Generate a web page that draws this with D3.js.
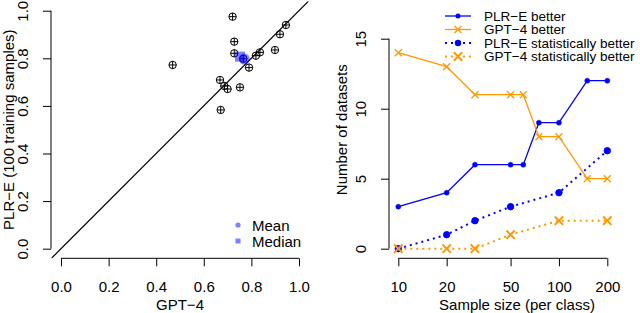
<!DOCTYPE html>
<html>
<head>
<meta charset="utf-8">
<script src="https://cdn.jsdelivr.net/npm/d3@7"></script>
<style>
  body { margin: 0; background: #fff; }
  svg { display: block; font-family: "Liberation Sans", Arial, sans-serif; }
</style>
</head>
<body>
<svg id="chart" width="640" height="313"></svg>
<script>
// left panel: accuracy per dataset
var gptAcc = [0.721, 0.728, 0.728, 0.945, 0.920, 0.899, 0.836, 0.819, 0.790, 0.469, 0.668, 0.686, 0.700, 0.752, 0.671, 0.766];
var plrAcc = [0.975, 0.870, 0.821, 0.940, 0.901, 0.835, 0.825, 0.811, 0.761, 0.772, 0.709, 0.684, 0.671, 0.678, 0.583, 0.798];
var meanPt = [0.770, 0.797];
var medianPt = [0.752, 0.807];
var accTicks = [0, 0.2, 0.4, 0.6, 0.8, 1.0];

// right panel: counts per sample size
var sampleSizes = [10, 20, 30, 50, 60, 75, 100, 150, 200];
var plrBetter = [3, 4, 6, 6, 6, 9, 9, 12, 12];
var gptBetter = [14, 13, 11, 11, 11, 8, 8, 5, 5];
var statSizes = [10, 20, 30, 50, 100, 200];
var plrStat = [0, 1, 2, 3, 4, 7];
var gptStat = [0, 0, 0, 1, 2, 2];
var sizeTicks = [10, 20, 50, 100, 200];
var countTicks = [0, 5, 10, 15];

var legendLabels = ["PLR\u2212E better", "GPT\u22124 better", "PLR\u2212E statistically better", "GPT\u22124 statistically better"];

var BLUE = "#0000ff", ORANGE = "#ff9900";
var FS = 15;

var svg = d3.select("#chart");

// R-like axis: line only between first and last tick
function rAxis(g, axis, scale, ticks, horiz) {
  g.call(axis.tickValues(ticks).tickSize(8).tickSizeOuter(0));
  var a = scale(ticks[0]), b = scale(ticks[ticks.length - 1]);
  g.select(".domain").attr("d", horiz ? "M" + a + ",0H" + b : "M0," + a + "V" + b);
  g.selectAll("line").attr("stroke", "#000");
  g.selectAll("text").attr("font-size", FS).attr("fill", "#000").attr("font-family", "Liberation Sans, Arial, sans-serif");
  return g;
}

// ---------- left panel ----------
var xL = d3.scaleLinear().domain([-0.04, 1.04]).range([51.5, 308.5]);
var yL = d3.scaleLinear().domain([-0.04, 1.04]).range([258.2, 1.2]);

svg.append("clipPath").attr("id", "clipL")
  .append("rect").attr("x", 51.5).attr("y", 1.2).attr("width", 257).attr("height", 257);

svg.append("line")
  .attr("clip-path", "url(#clipL)")
  .attr("x1", xL(-0.1)).attr("y1", yL(-0.1))
  .attr("x2", xL(1.1)).attr("y2", yL(1.1))
  .attr("stroke", "#000").attr("stroke-width", 1.2);

var gxL = svg.append("g").attr("transform", "translate(0,258.3)");
rAxis(gxL, d3.axisBottom(xL).tickFormat(d3.format(".1f")).tickPadding(15), xL, accTicks, true);

var gyL = svg.append("g").attr("transform", "translate(51,0)");
rAxis(gyL, d3.axisLeft(yL).tickFormat(d3.format(".1f")), yL, accTicks, false);
gyL.selectAll("text")
  .attr("transform", "rotate(-90)")
  .attr("x", 0).attr("y", -22.6).attr("dy", 0)
  .attr("text-anchor", "middle");

svg.append("text").attr("x", 180).attr("y", 309.5)
  .attr("text-anchor", "middle").attr("font-size", FS).text("GPT\u22124");
svg.append("text")
  .attr("transform", "translate(14,129.7) rotate(-90)")
  .attr("text-anchor", "middle").attr("font-size", FS)
  .text("PLR\u2212E (100 training samples)");

// points, pch 10 (circle plus)
var ptsL = d3.zip(gptAcc, plrAcc);
var pt = svg.append("g").selectAll("g").data(ptsL).join("g")
  .attr("transform", function(d) { return "translate(" + xL(d[0]) + "," + yL(d[1]) + ")"; })
  .attr("fill", "none").attr("stroke", "#000").attr("stroke-width", 1);
pt.append("circle").attr("r", 3.7);
pt.append("path").attr("d", "M-3.7,0H3.7M0,-3.7V3.7");

// mean and median
svg.append("rect")
  .attr("x", xL(medianPt[0]) - 5).attr("y", yL(medianPt[1]) - 5)
  .attr("width", 10).attr("height", 10)
  .attr("fill", BLUE).attr("fill-opacity", 0.5);
svg.append("circle")
  .attr("cx", xL(meanPt[0])).attr("cy", yL(meanPt[1])).attr("r", 5.5)
  .attr("fill", BLUE).attr("fill-opacity", 0.5);

// left legend
svg.append("circle").attr("cx", 238).attr("cy", 225).attr("r", 2.6)
  .attr("fill", BLUE).attr("fill-opacity", 0.5);
svg.append("rect").attr("x", 235.5).attr("y", 238.5).attr("width", 5).attr("height", 5)
  .attr("fill", BLUE).attr("fill-opacity", 0.5);
svg.append("text").attr("x", 252).attr("y", 230.5).attr("font-size", FS).text("Mean");
svg.append("text").attr("x", 252).attr("y", 246.8).attr("font-size", FS).text("Median");

// ---------- right panel ----------
var xR = d3.scaleLog().domain([10, 200]).range([398.3, 607.3]);
var yR = d3.scaleLinear().domain([0, 15]).range([248.7, 38.7]);

var gxR = svg.append("g").attr("transform", "translate(0,258.3)");
rAxis(gxR, d3.axisBottom(xR).tickFormat(d3.format("d")).tickPadding(15), xR, sizeTicks, true);

var gyR = svg.append("g").attr("transform", "translate(389,0)");
rAxis(gyR, d3.axisLeft(yR).tickFormat(d3.format("d")), yR, countTicks, false);
gyR.selectAll("text")
  .attr("transform", "rotate(-90)")
  .attr("x", 0).attr("y", -22.6).attr("dy", 0)
  .attr("text-anchor", "middle");

svg.append("text").attr("x", 517).attr("y", 309.5)
  .attr("text-anchor", "middle").attr("font-size", FS).text("Sample size (per class)");
svg.append("text")
  .attr("transform", "translate(347,129.7) rotate(-90)")
  .attr("text-anchor", "middle").attr("font-size", FS)
  .text("Number of datasets");

var line = d3.line().x(function(d) { return xR(d[0]); }).y(function(d) { return yR(d[1]); });

function crossPath(s) {
  return "M" + (-s) + "," + (-s) + "L" + s + "," + s + "M" + (-s) + "," + s + "L" + s + "," + (-s);
}

function series(xs, ys, color, shape, stat) {
  var data = d3.zip(xs, ys);
  svg.append("path").datum(data).attr("d", line)
    .attr("fill", "none").attr("stroke", color)
    .attr("stroke-width", stat ? 2 : 1.3)
    .attr("stroke-dasharray", stat ? "2,4" : null);
  var g = svg.append("g");
  data.forEach(function(d) {
    var cx = xR(d[0]), cy = yR(d[1]);
    if (shape === "dot") {
      g.append("circle").attr("cx", cx).attr("cy", cy).attr("r", stat ? 3.2 : 2.5)
        .attr("fill", color).attr("stroke", color).attr("stroke-width", stat ? 1 : 0.5);
    } else {
      g.append("path").attr("transform", "translate(" + cx + "," + cy + ")")
        .attr("d", crossPath(stat ? 4.2 : 3.5))
        .attr("stroke", color).attr("stroke-width", stat ? 2 : 1.3).attr("fill", "none");
    }
  });
}

series(sampleSizes, plrBetter, BLUE, "dot", false);
series(sampleSizes, gptBetter, ORANGE, "cross", false);
series(statSizes, plrStat, BLUE, "dot", true);
series(statSizes, gptStat, ORANGE, "cross", true);

// right legend
var legendStyle = [
  { color: BLUE, shape: "dot", stat: false },
  { color: ORANGE, shape: "cross", stat: false },
  { color: BLUE, shape: "dot", stat: true },
  { color: ORANGE, shape: "cross", stat: true }
];
legendLabels.forEach(function(lab, i) {
  var cy = 16 + i * 13.5, st = legendStyle[i];
  svg.append("line").attr("x1", 445).attr("x2", 471).attr("y1", cy).attr("y2", cy)
    .attr("stroke", st.color).attr("stroke-width", st.stat ? 2 : 1.3)
    .attr("stroke-dasharray", st.stat ? "2,4" : null);
  if (st.shape === "dot") {
    svg.append("circle").attr("cx", 458).attr("cy", cy).attr("r", st.stat ? 3.2 : 2.5)
      .attr("fill", st.color);
  } else {
    svg.append("path").attr("transform", "translate(458," + cy + ")")
      .attr("d", crossPath(st.stat ? 4.2 : 3.5))
      .attr("stroke", st.color).attr("stroke-width", st.stat ? 2 : 1.3).attr("fill", "none");
  }
  svg.append("text").attr("x", 484).attr("y", cy + 4.9).attr("font-size", 13.5).text(lab);
});
</script>
</body>
</html>
